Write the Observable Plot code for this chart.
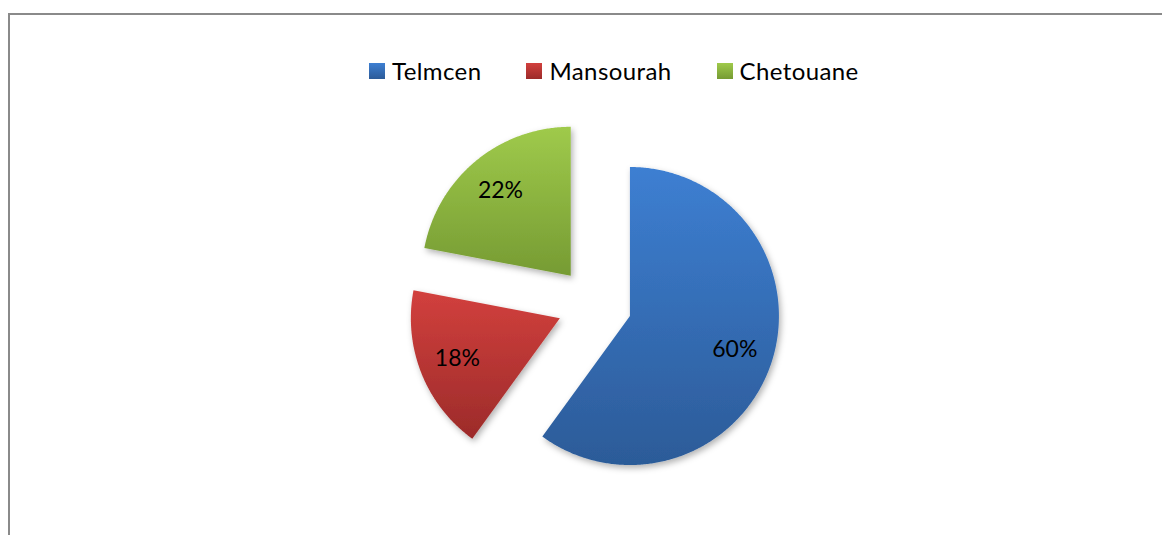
<!DOCTYPE html>
<html>
<head>
<meta charset="utf-8">
<script src="https://cdn.jsdelivr.net/npm/d3@7"></script>
<script src="https://cdn.jsdelivr.net/npm/@observablehq/plot@0.6"></script>
<style>
  html, body { margin: 0; padding: 0; background: #fff; width: 1162px; height: 535px; overflow: hidden; }
  #frame { position: absolute; left: 8px; top: 13px; width: 1200px; height: 600px;
           border-top: 2px solid #8a8a8a; border-left: 2px solid #8a8a8a; box-sizing: border-box; }
  #chart { position: absolute; left: 0; top: 0; }
  #legend { position: absolute; left: 369px; top: 56px; display: flex; align-items: center;
            font-family: Lato, "Open Sans", sans-serif; font-size: 24px; letter-spacing: 0.4px; color: #000; }
  .item { display: flex; align-items: center; margin-right: 45px; }
  .sw { width: 16px; height: 16px; margin-right: 7px; }
</style>
</head>
<body>
<div id="frame"></div>
<div id="chart"></div>
<div id="legend"></div>
<script>
// ---- data ----
const categories = ["Telmcen", "Mansourah", "Chetouane"];
const values = [60, 18, 22];
const labels = ["60%", "18%", "22%"];
const colorsTop = ["#3d7fd2", "#d2403d", "#9fca4b"];
const colorsBottom = ["#2c5b98", "#9c2b2a", "#769b33"];

// ---- layout ----
const W = 1162, H = 535;
const cx = 594, cy = 304, R = 149;   // pixel centre and radius
const explode = 0.25;                  // fraction of radius
const labelR = 0.74;

const pie = d3.pie().sort(null).value(d => d.value);
const arcs = pie(categories.map((c, i) => ({name: c, value: values[i], label: labels[i]})));

const pts = [];
const labs = [];
arcs.forEach((a, i) => {
  const mid = (a.startAngle + a.endAngle) / 2;
  const ox = explode * Math.sin(mid), oy = explode * Math.cos(mid);
  pts.push({name: a.data.name, x: ox, y: oy});
  const n = Math.max(8, Math.ceil((a.endAngle - a.startAngle) / (Math.PI / 360)));
  for (let k = 0; k <= n; k++) {
    const t = a.startAngle + (a.endAngle - a.startAngle) * k / n;
    pts.push({name: a.data.name, x: ox + Math.sin(t), y: oy + Math.cos(t)});
  }
  pts.push({name: a.data.name, x: ox, y: oy});
  labs.push({name: a.data.name, label: a.data.label,
             x: ox + labelR * Math.sin(mid), y: oy + labelR * Math.cos(mid)});
});

const gradIds = categories.map((c, i) => "grad" + i);

const chart = Plot.plot({
  width: W,
  height: H,
  marginLeft: cx - R,
  marginRight: W - (cx + R),
  marginTop: cy - R,
  marginBottom: H - (cy + R),
  x: {domain: [-1, 1], axis: null},
  y: {domain: [-1, 1], axis: null},
  color: {type: "ordinal", domain: categories, range: gradIds.map(id => `url(#${id})`)},
  style: {background: "transparent", fontFamily: "Lato, 'Open Sans', sans-serif"},
  marks: [
    Plot.line(pts, {x: "x", y: "y", z: "name", fill: "name", stroke: "none", curve: "linear"}),
    Plot.text(labs, {x: "x", y: "y", text: "label", fill: "#000", fontSize: 23})
  ]
});

// gradients + shadow
const svg = d3.select(chart);
const defs = svg.insert("defs", ":first-child");
gradIds.forEach((id, i) => {
  const g = defs.append("linearGradient").attr("id", id)
    .attr("x1", 0).attr("y1", 0).attr("x2", 0).attr("y2", 1);
  g.append("stop").attr("offset", "0%").attr("stop-color", colorsTop[i]);
  g.append("stop").attr("offset", "100%").attr("stop-color", colorsBottom[i]);
});
const f = defs.append("filter").attr("id", "shadow")
  .attr("x", "-20%").attr("y", "-20%").attr("width", "140%").attr("height", "140%");
f.append("feDropShadow").attr("dx", 2).attr("dy", 3).attr("stdDeviation", 3)
  .attr("flood-color", "#000").attr("flood-opacity", 0.3);
svg.selectAll("path").filter(function() { return this.getAttribute("fill") && this.getAttribute("fill").startsWith("url("); })
  .attr("filter", "url(#shadow)");

document.getElementById("chart").appendChild(chart);

// legend
const legend = d3.select("#legend");
categories.forEach((c, i) => {
  const it = legend.append("div").attr("class", "item");
  it.append("div").attr("class", "sw")
    .style("background", `linear-gradient(${colorsTop[i]}, ${colorsBottom[i]})`);
  it.append("span").text(c);
});
</script>
</body>
</html>
